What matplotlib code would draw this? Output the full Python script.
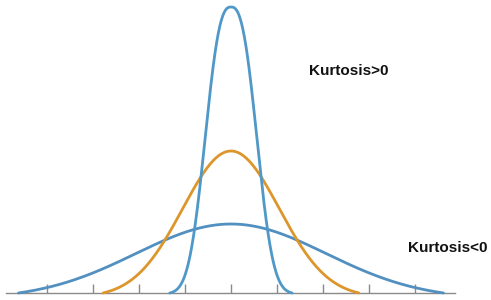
import numpy as np
import matplotlib.pyplot as plt

# curve parameters (x in tick units, height in px above the baseline)
curve_names = ['wide', 'normal', 'peaked']
curve_colors = ['#5190c0', '#dc962c', '#5098c8']
peak_heights = [69, 142, 286]
widths = [2.07, 1.05, 0.68]
shapes = [2.0, 2.0, 2.6]
half_spans = [4.62, 2.78, 1.33]
tick_positions = [-4, -3, -2, -1, 0, 1, 2, 3, 4]
labels = ['Kurtosis>0', 'Kurtosis<0']
label_xy = [(2.55, 222), (4.72, 45)]

fig = plt.figure(figsize=(4.91, 3.0), dpi=100)
ax = fig.add_axes([0, 0, 1, 1])
ax.set_xlim(-231 / 46, 260 / 46)
ax.set_ylim(-7, 293)
ax.axis('off')

# baseline and ticks
ax.plot([-4.9, 4.88], [0, 0], color='#8a8a8a', lw=1.0)
ax.vlines(tick_positions, 0, 9, color='#8a8a8a', lw=1.0)

for h, w, p, L, c in zip(peak_heights, widths, shapes, half_spans, curve_colors):
    x = np.linspace(-L, L, 400)
    g = np.exp(-0.5 * np.abs(x / w) ** p) if p == 2 else np.exp(-np.abs(x / w) ** p)
    gL = g[0]
    y = h * (g - gL) / (1 - gL)
    ax.plot(x, y, color=c, lw=2.0, solid_capstyle='round')

for (tx, ty), s in zip(label_xy, labels):
    ax.text(tx, ty, s, fontsize=11, fontweight='bold', family='Liberation Sans',
            ha='center', va='center', color='#111111')

fig.savefig('out.png', dpi=100)
